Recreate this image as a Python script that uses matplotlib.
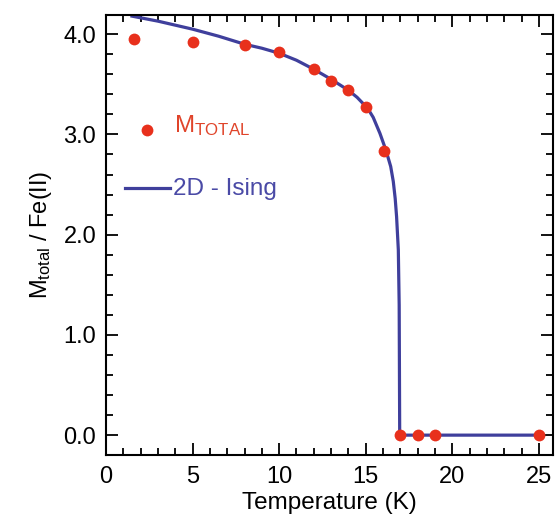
import matplotlib
matplotlib.use("Agg")
import matplotlib.pyplot as plt
from matplotlib.ticker import MultipleLocator, FormatStrFormatter

plt.rcParams["font.family"] = ["Liberation Sans", "DejaVu Sans"]
plt.rcParams["mathtext.fontset"] = "custom"
plt.rcParams["mathtext.rm"] = "Liberation Sans"

# measured magnetisation per Fe(II)
temp_pts = [1.6, 5, 8, 10, 12, 13, 14, 15, 16.07, 17, 18, 19, 25]
m_pts = [3.95, 3.92, 3.89, 3.82, 3.65, 3.53, 3.44, 3.27, 2.83, 0, 0, 0, 0]

# 2D Ising curve
temp_ising = [1.5, 3, 5, 6.5, 8, 9, 10, 11, 12, 13, 14, 14.5, 15, 15.2,
              15.43, 15.82, 16.17, 16.44, 16.59, 16.7, 16.78, 16.88, 16.93,
              16.96, 25]
m_ising = [4.18, 4.13, 4.05, 3.98, 3.90, 3.86, 3.81, 3.74, 3.65, 3.55,
           3.44, 3.37, 3.28, 3.235, 3.17, 3.01, 2.84, 2.68, 2.53, 2.36,
           2.18, 1.85, 1.3, 0, 0]

red = "#e8301c"
blue = "#3f3f9c"

fig = plt.figure(figsize=(5.55, 5.22), dpi=100)
ax = fig.add_axes([0.191, 0.128, 0.805, 0.843])

ax.plot(temp_ising, m_ising, color=blue, lw=2.3, zorder=2)
ax.plot(temp_pts, m_pts, "o", color=red, ms=8.5, mec="none", zorder=3)

ax.set_xlim(0, 25.8)
ax.set_ylim(-0.2, 4.19)
ax.xaxis.set_major_locator(MultipleLocator(5))
ax.xaxis.set_minor_locator(MultipleLocator(1))
ax.yaxis.set_major_locator(MultipleLocator(1))
ax.yaxis.set_minor_locator(MultipleLocator(0.2))
ax.yaxis.set_major_formatter(FormatStrFormatter("%.1f"))
ax.tick_params(which="both", direction="in", top=True, right=True,
               width=1.3, labelsize=17)
ax.tick_params(which="major", length=8.5)
ax.tick_params(which="minor", length=4.8)
ax.tick_params(axis="x", pad=8)
ax.tick_params(axis="y", pad=7)
for sp in ax.spines.values():
    sp.set_linewidth(1.5)

ax.set_xlabel("Temperature (K)", fontsize=17.5, labelpad=3)
ax.set_ylabel(r"$\mathregular{M_{total}}$ / Fe(II)", fontsize=17, labelpad=7)

# hand-drawn legend
tr = ax.transAxes
ax.plot([0.092], [0.740], "o", color=red, ms=8.5, mec="none", transform=tr)
ax.text(0.152, 0.735, r"$\mathregular{M_{TOTAL}}$", color="#e0442a",
        fontsize=17.4, transform=tr, va="baseline")
ax.plot([0.042, 0.143], [0.607, 0.607], color=blue, lw=2.3, transform=tr)
ax.text(0.150, 0.591, "2D - Ising", color="#4a4aa6", fontsize=17.5,
        transform=tr, va="baseline")

fig.savefig("out.png", dpi=100)
